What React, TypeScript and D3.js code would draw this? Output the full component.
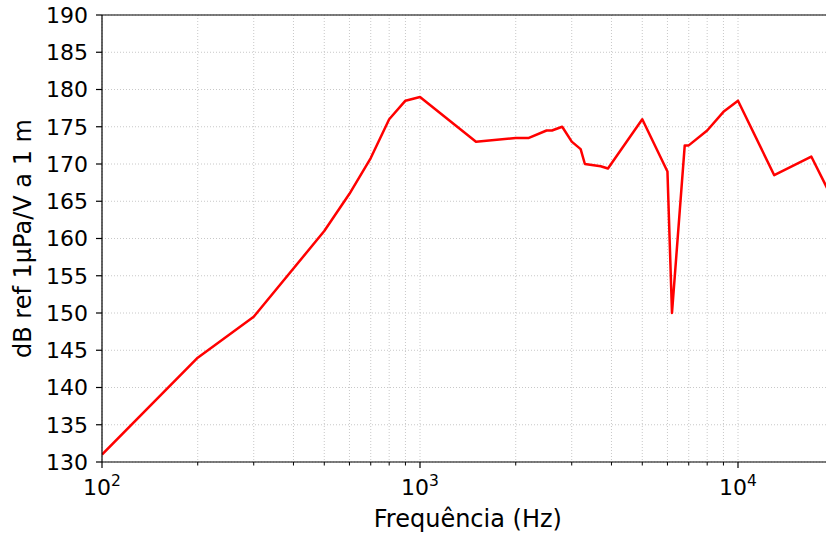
import React from "react";
import * as d3 from "d3";

const freqs = [100, 200, 300, 500, 600, 700, 800, 900, 1000, 1500, 2000, 2200, 2500, 2600, 2800, 3000, 3200, 3300, 3700, 3900, 5000, 6000, 6200, 6800, 7000, 8000, 9000, 10000, 13000, 17000, 20000];
const levels = [131, 144, 149.5, 161, 166, 170.8, 176, 178.5, 179, 173, 173.5, 173.5, 174.5, 174.5, 175, 173, 172, 170, 169.7, 169.4, 176, 169, 150, 172.5, 172.5, 174.5, 177, 178.5, 168.5, 171, 165];
const yTicks = [130, 135, 140, 145, 150, 155, 160, 165, 170, 175, 180, 185, 190];
const xMajor = [100, 1000, 10000];
const xMajorExp = ["2", "3", "4"];
const xLabel = "Frequência (Hz)";
const yLabel = "dB ref 1µPa/V a 1 m";

const W = 826, H = 536;
const L = 102, T = 15, B = 462;

export default function App() {
  const decade = 318;
  const x = d3.scaleLog().domain([100, 20000]).range([L, L + decade * Math.log10(200)]);
  const y = d3.scaleLinear().domain([130, 190]).range([B, T]);
  const minor: number[] = [];
  [100, 1000, 10000].forEach((d) => {
    for (let k = 2; k <= 9; k++) minor.push(d * k);
  });
  const minorVis = minor.filter((v) => v <= 20000);
  const line = d3.line<number>().x((_, i) => x(freqs[i])).y((d) => y(d));
  const font = "DejaVu Sans, sans-serif";
  const gridStyle = { stroke: "#c8c8c8", strokeWidth: 1, strokeDasharray: "1,2" };
  const xEnd = W;
  return (
    <svg width={W} height={H} style={{ position: "absolute", left: 0, top: 0 }} fontFamily={font}>
      <defs>
        <clipPath id="plot">
          <rect x={L} y={T} width={xEnd - L} height={B - T} />
        </clipPath>
      </defs>
      <rect x={0} y={0} width={W} height={H} fill="white" />
      {yTicks.map((t) => (
        <line key={"gy" + t} x1={L} x2={xEnd} y1={y(t)} y2={y(t)} {...gridStyle} />
      ))}
      {[...xMajor, ...minorVis].map((t) => (
        <line key={"gx" + t} x1={x(t)} x2={x(t)} y1={T} y2={B} {...gridStyle} />
      ))}
      <path d={line(levels) || ""} fill="none" stroke="#ff0000" strokeWidth={2.5} strokeLinejoin="round" clipPath="url(#plot)" />
      <line x1={L} x2={xEnd} y1={T} y2={T} stroke="black" strokeWidth={1.2} />
      <line x1={L} x2={xEnd} y1={B} y2={B} stroke="black" strokeWidth={1.2} />
      <line x1={L} x2={L} y1={T} y2={B} stroke="black" strokeWidth={1.2} />
      {yTicks.map((t) => (
        <g key={"yt" + t}>
          <line x1={L - 6} x2={L} y1={y(t)} y2={y(t)} stroke="black" strokeWidth={1.2} />
          <text x={L - 14} y={y(t)} dy="0.36em" textAnchor="end" fontSize={22} fill="black">{t}</text>
        </g>
      ))}
      {minorVis.map((t) => (
        <line key={"mt" + t} x1={x(t)} x2={x(t)} y1={B} y2={B + 3.5} stroke="black" strokeWidth={1} />
      ))}
      {xMajor.map((t, i) => (
        <g key={"xt" + t}>
          <line x1={x(t)} x2={x(t)} y1={B} y2={B + 6} stroke="black" strokeWidth={1.2} />
          <text x={x(t)} y={495} textAnchor="middle" fontSize={22} fill="black">
            10<tspan dy="-9" fontSize={15.5}>{xMajorExp[i]}</tspan>
          </text>
        </g>
      ))}
      <text x={(L + x(20000)) / 2} y={527} textAnchor="middle" fontSize={24} fill="black">{xLabel}</text>
      <text transform={`translate(31, ${(T + B) / 2}) rotate(-90)`} textAnchor="middle" fontSize={24} fill="black">{yLabel}</text>
    </svg>
  );
}
